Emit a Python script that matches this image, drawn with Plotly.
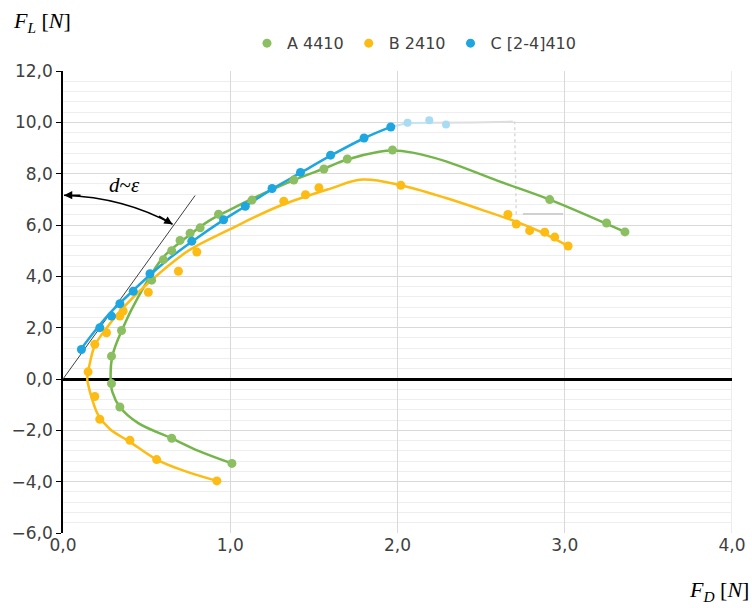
import plotly.graph_objects as go

# measured points (F_D, F_L)
a_x = [1.01, 0.65, 0.34, 0.29, 0.29, 0.35, 0.53, 0.60, 0.65, 0.70, 0.76, 0.82, 0.93, 1.13, 1.38, 1.56, 1.70, 1.97, 2.91, 3.25, 3.36]
a_y = [-3.29, -2.31, -1.09, -0.18, 0.89, 1.89, 3.85, 4.65, 5.00, 5.40, 5.68, 5.89, 6.42, 6.97, 7.75, 8.18, 8.57, 8.92, 6.99, 6.08, 5.73]

b_x = [0.92, 0.56, 0.40, 0.22, 0.19, 0.15, 0.19, 0.26, 0.34, 0.36, 0.51, 0.69, 0.80, 1.32, 1.45, 1.53, 2.02, 2.66, 2.71, 2.79, 2.88, 2.94, 3.02]
b_y = [-3.97, -3.14, -2.39, -1.57, -0.68, 0.28, 1.35, 1.80, 2.45, 2.65, 3.38, 4.20, 4.95, 6.93, 7.18, 7.45, 7.55, 6.41, 6.04, 5.78, 5.72, 5.53, 5.18]

c_x = [0.11, 0.22, 0.29, 0.34, 0.42, 0.52, 0.77, 0.96, 1.09, 1.25, 1.42, 1.60, 1.80, 1.96]
c_y = [1.15, 2.00, 2.45, 2.93, 3.42, 4.10, 5.37, 6.20, 6.73, 7.42, 8.05, 8.72, 9.39, 9.82]

c_faded_x = [2.06, 2.19, 2.29]
c_faded_y = [9.98, 10.08, 9.92]

# fitted curves
fa_x = [1.01, 0.81, 0.65, 0.45, 0.34, 0.295, 0.285, 0.295, 0.355, 0.45, 0.60, 0.735, 0.87, 1.0, 1.13, 1.38, 1.56, 1.70, 1.89, 1.97, 2.09, 2.29, 2.60, 2.91, 3.36]
fa_y = [-3.29, -2.80, -2.31, -1.72, -1.09, -0.50, 0.0, 0.90, 1.95, 3.20, 4.75, 5.50, 6.15, 6.60, 7.02, 7.75, 8.20, 8.55, 8.85, 8.90, 8.82, 8.48, 7.72, 6.99, 5.73]

fb_x = [0.92, 0.725, 0.56, 0.40, 0.28, 0.21, 0.17, 0.15, 0.145, 0.16, 0.19, 0.25, 0.37, 0.52, 0.75, 1.0, 1.29, 1.59, 1.79, 2.02, 2.29, 2.50, 2.70, 2.85, 3.02]
fb_y = [-3.97, -3.58, -3.14, -2.45, -1.95, -1.40, -0.70, -0.20, 0.0, 0.60, 1.30, 1.90, 2.85, 3.80, 5.00, 5.84, 6.73, 7.40, 7.77, 7.55, 7.05, 6.60, 6.15, 5.75, 5.18]

fc_x = [0.10, 0.20, 0.30, 0.42, 0.52, 0.64, 0.77, 0.96, 1.09, 1.25, 1.42, 1.60, 1.80, 1.96]
fc_y = [1.10, 1.95, 2.70, 3.45, 4.05, 4.72, 5.35, 6.20, 6.73, 7.40, 8.03, 8.70, 9.38, 9.82]

ghost_blue_x = [1.96, 2.06, 2.22]
ghost_blue_y = [9.82, 9.97, 9.98]
ghost_x = [2.22, 2.45, 2.69]
ghost_y = [9.98, 9.99, 10.03]
ghost_v_x = [2.70, 2.71]
ghost_v_y = [10.04, 6.42]
ghost_h_x = [2.75, 2.99]
ghost_h_y = [6.43, 6.43]

tangent_x = [0.0, 0.79]
tangent_y = [0.0, 7.15]

green_l, green_m = "#74b64b", "#8cbf62"
yellow = "#fdbc13"
blue = "#1ea6e0"

fig = go.Figure()

# faint leftovers of series C
fig.add_trace(go.Scatter(x=ghost_blue_x, y=ghost_blue_y, mode="lines", line=dict(color="#c4e4f3", width=2), showlegend=False, hoverinfo="skip"))
fig.add_trace(go.Scatter(x=ghost_x, y=ghost_y, mode="lines", line=dict(color="#dedede", width=2), showlegend=False, hoverinfo="skip"))
fig.add_trace(go.Scatter(x=ghost_v_x, y=ghost_v_y, mode="lines", line=dict(color="#dadada", width=1.5, dash="dot"), showlegend=False, hoverinfo="skip"))
fig.add_trace(go.Scatter(x=ghost_h_x, y=ghost_h_y, mode="lines", line=dict(color="#d0d0d0", width=2), showlegend=False, hoverinfo="skip"))
fig.add_trace(go.Scatter(x=c_faded_x, y=c_faded_y, mode="markers", marker=dict(color="#a9dcf3", size=8), showlegend=False, hoverinfo="skip"))

fig.add_trace(go.Scatter(x=tangent_x, y=tangent_y, mode="lines", line=dict(color="#404040", width=1), showlegend=False))

fig.add_trace(go.Scatter(x=fa_x, y=fa_y, mode="lines", line=dict(color=green_l, width=2.5, shape="spline"), showlegend=False))
fig.add_trace(go.Scatter(x=fb_x, y=fb_y, mode="lines", line=dict(color=yellow, width=2.5, shape="spline"), showlegend=False))
fig.add_trace(go.Scatter(x=fc_x, y=fc_y, mode="lines", line=dict(color=blue, width=2.5, shape="spline"), showlegend=False))

fig.add_trace(go.Scatter(x=a_x, y=a_y, mode="markers", name="A 4410", marker=dict(color=green_m, size=9)))
fig.add_trace(go.Scatter(x=b_x, y=b_y, mode="markers", name="B 2410", marker=dict(color=yellow, size=9)))
fig.add_trace(go.Scatter(x=c_x, y=c_y, mode="markers", name="C [2-4]410", marker=dict(color=blue, size=9)))

# right border of the plot area
fig.add_shape(type="line", xref="x", yref="paper", x0=4, x1=4, y0=0, y1=1,
              line=dict(color="#d9d9d9", width=1), layer="below")

# curved double arrow d~eps
fig.add_shape(type="path", xref="x", yref="y", path="M 0.006,7.16 Q 0.365,7.08 0.655,6.03",
              line=dict(color="black", width=1.5))
fig.add_annotation(x=0.006, y=7.16, ax=18, ay=0, text="", showarrow=True, arrowhead=2,
                   arrowsize=1.1, arrowwidth=1.5, arrowcolor="black", standoff=0)
fig.add_annotation(x=0.655, y=6.03, ax=-15, ay=-9, text="", showarrow=True, arrowhead=2,
                   arrowsize=1.1, arrowwidth=1.5, arrowcolor="black", standoff=0)
fig.add_annotation(x=0.37, y=7.55, text="<i>d</i>~<i>ε</i>", showarrow=False,
                   font=dict(family="Liberation Serif", size=21, color="black"))

fig.add_annotation(xref="paper", yref="paper", x=-0.077, y=1.105, xanchor="left", yanchor="middle",
                   text="<i>F<sub>L</sub></i> [<i>N</i>]", showarrow=False,
                   font=dict(family="Liberation Serif", size=22, color="black"))
fig.add_annotation(xref="paper", yref="paper", x=1.029, y=-0.125, xanchor="right", yanchor="middle",
                   text="<i>F<sub>D</sub></i> [<i>N</i>]", showarrow=False,
                   font=dict(family="Liberation Serif", size=22, color="black"))

fig.update_layout(
    width=752, height=608,
    margin=dict(l=63, r=20, t=71, b=75),
    paper_bgcolor="white", plot_bgcolor="white",
    separators=", ",
    font=dict(family="DejaVu Sans", size=17, color="#404040"),
    legend=dict(orientation="h", x=0.275, y=1.06, xanchor="left", yanchor="middle",
                font=dict(size=16, color="#404040"), itemwidth=30),
    xaxis=dict(range=[0, 4], dtick=1, tickformat=".1f", showgrid=True, gridcolor="#d9d9d9",
               zeroline=False, showline=False, ticks="", automargin=False),
    yaxis=dict(range=[-6, 12], dtick=2, tickformat=".1f", showgrid=True, gridcolor="#d9d9d9",
               zeroline=True, zerolinecolor="black", zerolinewidth=2.5,
               showline=True, linecolor="black", linewidth=1.5, ticks="outside", ticklen=5,
               tickcolor="black", automargin=False,
               minor=dict(dtick=0.4, tick0=0, showgrid=True, gridcolor="#eeeeee", ticks="")),
)

# drop the default page margin so the figure sits at the window's corner
fig.write_html("out.html", config={"displayModeBar": False},
               post_script="document.body.style.margin='0';")
